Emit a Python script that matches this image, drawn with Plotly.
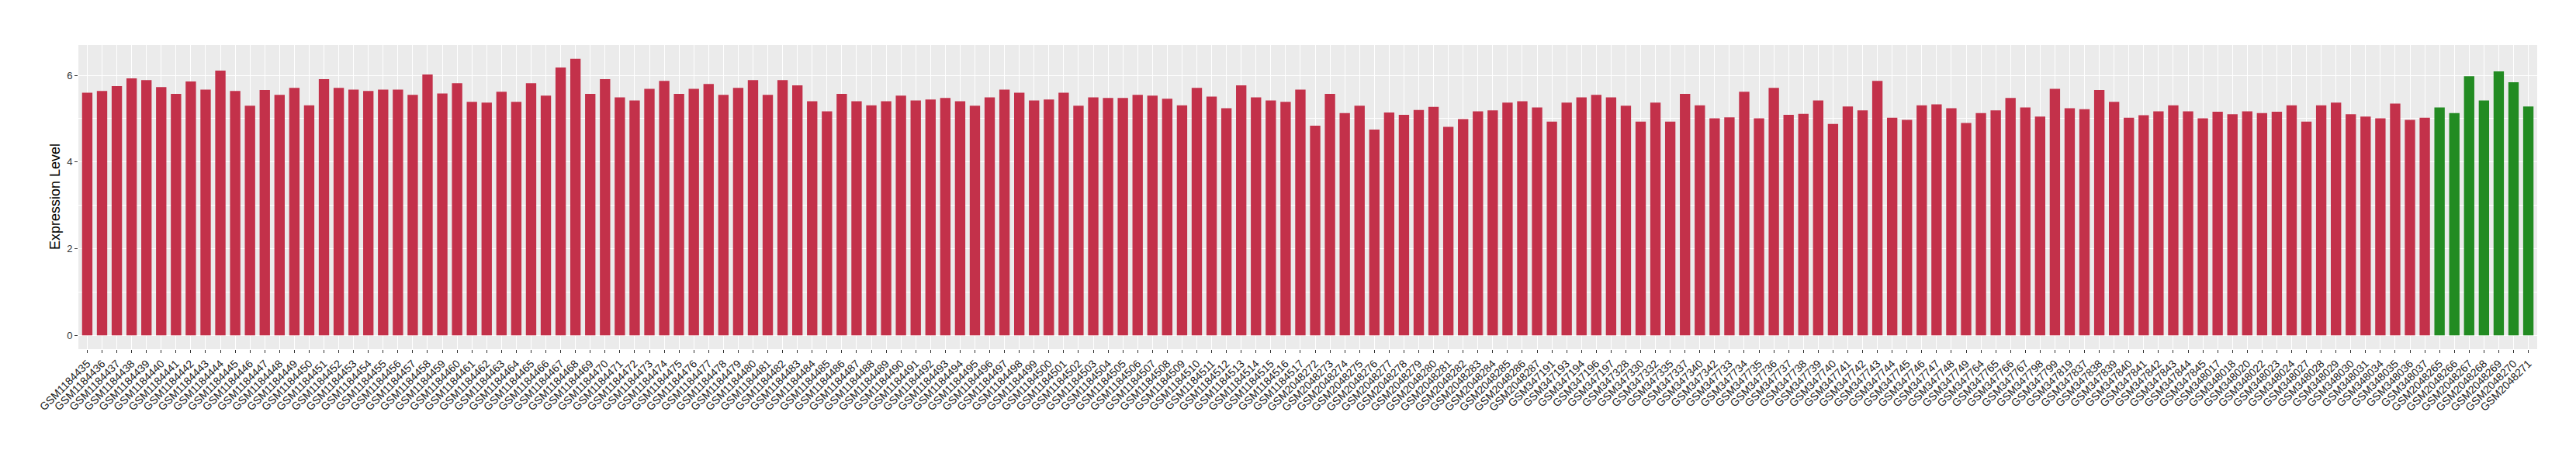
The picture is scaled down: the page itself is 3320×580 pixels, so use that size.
import plotly.graph_objects as go

# ---- data ----
samples_red = [
    "GSM1184435", "GSM1184436", "GSM1184437", "GSM1184438", "GSM1184439", "GSM1184440", "GSM1184441",
    "GSM1184442", "GSM1184443", "GSM1184444", "GSM1184445", "GSM1184446", "GSM1184447", "GSM1184448",
    "GSM1184449", "GSM1184450", "GSM1184451", "GSM1184452", "GSM1184453", "GSM1184454", "GSM1184455",
    "GSM1184456", "GSM1184457", "GSM1184458", "GSM1184459", "GSM1184460", "GSM1184461", "GSM1184462",
    "GSM1184463", "GSM1184464", "GSM1184465", "GSM1184466", "GSM1184467", "GSM1184468", "GSM1184469",
    "GSM1184470", "GSM1184471", "GSM1184472", "GSM1184473", "GSM1184474", "GSM1184475", "GSM1184476",
    "GSM1184477", "GSM1184478", "GSM1184479", "GSM1184480", "GSM1184481", "GSM1184482", "GSM1184483",
    "GSM1184484", "GSM1184485", "GSM1184486", "GSM1184487", "GSM1184488", "GSM1184489", "GSM1184490",
    "GSM1184491", "GSM1184492", "GSM1184493", "GSM1184494", "GSM1184495", "GSM1184496", "GSM1184497",
    "GSM1184498", "GSM1184499", "GSM1184500", "GSM1184501", "GSM1184502", "GSM1184503", "GSM1184504",
    "GSM1184505", "GSM1184506", "GSM1184507", "GSM1184508", "GSM1184509", "GSM1184510", "GSM1184511",
    "GSM1184512", "GSM1184513", "GSM1184514", "GSM1184515", "GSM1184516", "GSM1184517",
    "GSM2048272", "GSM2048273", "GSM2048274", "GSM2048275", "GSM2048276", "GSM2048277", "GSM2048278",
    "GSM2048279", "GSM2048280", "GSM2048281", "GSM2048282", "GSM2048283", "GSM2048284", "GSM2048285",
    "GSM2048286", "GSM2048287",
    "GSM347191", "GSM347193", "GSM347194", "GSM347196", "GSM347197", "GSM347328", "GSM347330",
    "GSM347332", "GSM347335", "GSM347337", "GSM347340", "GSM347342",
    "GSM347733", "GSM347734", "GSM347735", "GSM347736", "GSM347737", "GSM347738", "GSM347739",
    "GSM347740", "GSM347741", "GSM347742", "GSM347743", "GSM347744", "GSM347745", "GSM347746",
    "GSM347747", "GSM347748", "GSM347749",
    "GSM347764", "GSM347765", "GSM347766", "GSM347767", "GSM347798", "GSM347799", "GSM347819",
    "GSM347837", "GSM347838", "GSM347839", "GSM347840", "GSM347841", "GSM347842", "GSM347843",
    "GSM347844", "GSM347845",
    "GSM348017", "GSM348018", "GSM348020", "GSM348022", "GSM348023", "GSM348024", "GSM348027",
    "GSM348028", "GSM348029", "GSM348030", "GSM348031", "GSM348034", "GSM348035", "GSM348036",
    "GSM348037",
]
values_red = [
    5.60, 5.64, 5.75, 5.93, 5.89, 5.73, 5.57, 5.86, 5.67, 6.11, 5.64, 5.30, 5.66, 5.55,
    5.71, 5.31, 5.91, 5.71, 5.67, 5.64, 5.67, 5.67, 5.55, 6.02, 5.58, 5.82, 5.39, 5.37,
    5.62, 5.39, 5.82, 5.53, 6.18, 6.38, 5.57, 5.91, 5.49, 5.42, 5.69, 5.87, 5.57, 5.69,
    5.80, 5.55, 5.71, 5.89, 5.55, 5.89, 5.77, 5.40, 5.17, 5.57, 5.40, 5.31, 5.40, 5.53,
    5.42, 5.44, 5.48, 5.40, 5.30, 5.49, 5.67, 5.60, 5.42, 5.44, 5.60, 5.30, 5.49, 5.48,
    5.48, 5.55, 5.53, 5.46, 5.31, 5.71, 5.51, 5.24, 5.77, 5.49, 5.42, 5.39, 5.67, 4.84,
    5.57, 5.13, 5.30, 4.75, 5.14, 5.09, 5.20, 5.27, 4.81, 4.99, 5.17, 5.19, 5.37, 5.40,
    5.26, 4.93, 5.37, 5.49, 5.55, 5.49, 5.30, 4.93, 5.37, 4.93, 5.57, 5.31, 5.01, 5.03,
    5.62, 5.01, 5.71, 5.09, 5.11, 5.42, 4.88, 5.28, 5.19, 5.87, 5.02, 4.97, 5.31, 5.33,
    5.24, 4.90, 5.13, 5.19, 5.48, 5.26, 5.05, 5.69, 5.24, 5.22, 5.66, 5.39, 5.02, 5.08,
    5.17, 5.31, 5.17, 5.01, 5.16, 5.10, 5.17, 5.13, 5.16, 5.31, 4.93, 5.31, 5.37, 5.10,
    5.05, 5.01, 5.35, 4.97, 5.02,
]
samples_green = ["GSM2048265", "GSM2048266", "GSM2048267", "GSM2048268",
                 "GSM2048269", "GSM2048270", "GSM2048271"]
values_green = [5.26, 5.13, 5.98, 5.42, 6.09, 5.84, 5.28]

y_ticks = [0, 2, 4, 6]
y_title = "Expression Level"

RED = "#C3314A"
GREEN = "#228B22"

samples = samples_red + samples_green
values = values_red + values_green
colors = [RED] * len(samples_red) + [GREEN] * len(samples_green)

fig = go.Figure(go.Bar(
    x=samples, y=values, marker=dict(color=colors, line=dict(width=0)),
    width=0.7, showlegend=False,
))

n = len(samples)
font_fam = "Liberation Sans, Arial, Helvetica, sans-serif"
fig.update_layout(
    width=3320, height=580,
    margin=dict(l=93, r=58, t=50, b=138),
    paper_bgcolor="white", plot_bgcolor="#EBEBEB",
    font=dict(family=font_fam, color="#1a1a1a"),
    xaxis=dict(
        type="category", categoryorder="array", categoryarray=samples,
        range=[-0.6, n - 0.4],
        tickangle=-45, tickfont=dict(size=14, color="#1a1a1a", family=font_fam),
        showgrid=True, gridcolor="white", gridwidth=1.1,
        ticks="outside", ticklen=4, tickcolor="#333333", tickwidth=1,
        showline=False, zeroline=False,
    ),
    yaxis=dict(
        range=[-0.319, 6.70],
        tickvals=y_ticks, ticktext=[str(v) for v in y_ticks],
        tickfont=dict(size=13, color="#333333", family=font_fam),
        showgrid=True, gridcolor="white", gridwidth=1.1,
        minor=dict(dtick=1, tick0=0, showgrid=True, gridcolor="white", gridwidth=0.5, ticks=""),
        ticks="outside", ticklen=4, tickcolor="#333333", tickwidth=1,
        zeroline=False, showline=False,
    ),
    annotations=[dict(
        text=y_title, xref="paper", yref="paper", x=0, y=0.5,
        xanchor="center", yanchor="middle", xshift=-30, textangle=-90,
        showarrow=False, font=dict(size=18, color="#000000", family=font_fam),
    )],
)

fig.write_html("out.html")
